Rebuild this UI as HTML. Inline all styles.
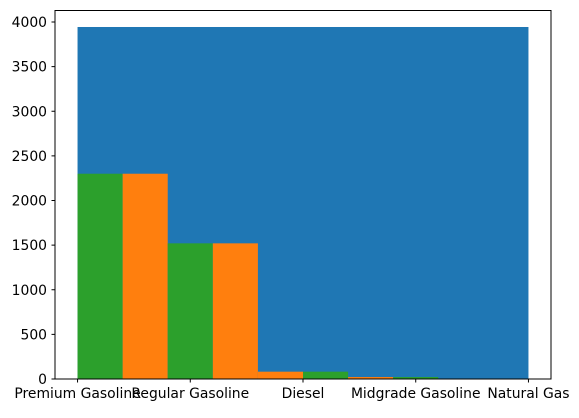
<!DOCTYPE html>
<html><head><meta charset="utf-8"><style>
body{margin:0;background:#fff;}
svg text{font-family:"DejaVu Sans","Liberation Sans",sans-serif;font-size:13.9px;fill:#000;}
</style></head><body>
<svg id="chart" width="579" height="413" xmlns="http://www.w3.org/2000/svg"></svg>
<script>
const categories=["Premium Gasoline","Regular Gasoline","Diesel","Midgrade Gasoline","Natural Gas"];
const yTicks=[0,500,1000,1500,2000,2500,3000,3500,4000];
const blueValues=[3944];
const binValues=[2300,2300,1520,1520,82,82,22,22,0,0];
const binColors=["#2ca02c","#ff7f0e","#2ca02c","#ff7f0e","#ff7f0e","#2ca02c","#ff7f0e","#2ca02c","#ff7f0e","#2ca02c"];
const L=55,R=551,T=10.5,B=379;
const xs=v=>L+(v+0.2)/4.4*(R-L);
const ys=v=>B-v/4000*(B-22);
const svg=document.getElementById('chart');
const NS="http://www.w3.org/2000/svg";
function mk(t,a){const e=document.createElementNS(NS,t);for(const k in a)e.setAttribute(k,a[k]);svg.appendChild(e);return e;}
let r=mk('rect',{x:xs(0),y:ys(blueValues[0]),width:xs(4)-xs(0),height:B-ys(blueValues[0]),fill:'#1f77b4'});


binValues.forEach((v,i)=>{
 const x0=xs(i*0.4),x1=xs((i+1)*0.4);
 const b=mk('rect',{x:x0,y:ys(v),width:x1-x0,height:B-ys(v),fill:binColors[i]});
 
 
});
const f=mk('rect',{x:L,y:T,width:R-L,height:B-T,fill:'none',stroke:'#000','stroke-width':1});


yTicks.forEach(v=>{
 const y=ys(v);
 const l=mk('line',{x1:L-3.5,x2:L,y1:y,y2:y,stroke:'#000'});
 
 
 const t=mk('text',{x:L-8,y:y+5,'text-anchor':'end'});t.textContent=v;
 
 
});
categories.forEach((c,i)=>{
 const x=xs(i);
 const l=mk('line',{x1:x,x2:x,y1:B,y2:B+3.5,stroke:'#000'});
 
 
 const t=mk('text',{x:x,y:B+19,'text-anchor':'middle'});t.textContent=c;
 
 
});
</script>
</body></html>
